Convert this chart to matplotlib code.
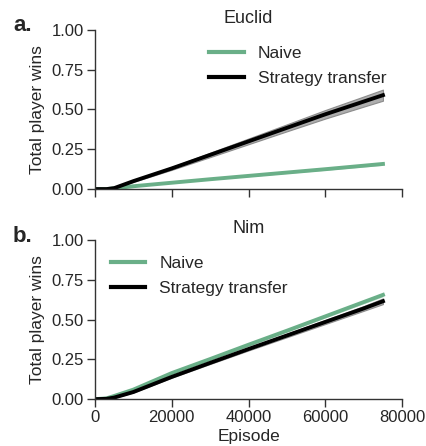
import numpy as np
import matplotlib
matplotlib.use('Agg')
import matplotlib.pyplot as plt

plt.rcParams['font.family'] = ['Liberation Sans', 'DejaVu Sans']

episodes = [0, 3000, 5000, 10000, 20000, 30000, 40000, 50000, 60000, 70000, 75000]

# Euclid
euclid_naive = [0.0, 0.0, 0.005, 0.018, 0.040, 0.062, 0.083, 0.104, 0.125, 0.147, 0.158]
euclid_naive_err = [0.0, 0.0, 0.001, 0.002, 0.003, 0.004, 0.005, 0.006, 0.007, 0.008, 0.009]
euclid_transfer = [0.0, 0.0, 0.006, 0.050, 0.130, 0.215, 0.300, 0.385, 0.470, 0.550, 0.590]
euclid_transfer_err = [0.0, 0.0, 0.002, 0.005, 0.009, 0.014, 0.018, 0.022, 0.027, 0.032, 0.035]

# Nim
nim_naive = [0.0, 0.005, 0.020, 0.060, 0.164, 0.252, 0.342, 0.430, 0.520, 0.610, 0.655]
nim_naive_err = [0.0, 0.0, 0.002, 0.003, 0.005, 0.006, 0.008, 0.009, 0.010, 0.011, 0.012]
nim_transfer = [0.0, 0.002, 0.010, 0.045, 0.140, 0.228, 0.315, 0.400, 0.485, 0.570, 0.615]
nim_transfer_err = [0.0, 0.0, 0.002, 0.003, 0.005, 0.007, 0.009, 0.011, 0.013, 0.015, 0.018]

green = '#6aaf88'
txt = '#262626'

panels = [
    ('a.', 'Euclid', euclid_naive, euclid_naive_err, euclid_transfer, euclid_transfer_err, 'upper right'),
    ('b.', 'Nim', nim_naive, nim_naive_err, nim_transfer, nim_transfer_err, 'upper left'),
]

fig = plt.figure(figsize=(4.26, 4.46), dpi=100)
rects = [[0.223, 0.576, 0.721, 0.357], [0.223, 0.105, 0.721, 0.357]]

x = np.array(episodes)
for rect, (lab, title, nv, ne, tv, te, loc) in zip(rects, panels):
    ax = fig.add_axes(rect)
    nv, ne, tv, te = map(np.array, (nv, ne, tv, te))
    ax.fill_between(x, nv - ne, nv + ne, color=green, alpha=0.4, lw=0)
    ax.plot(x, nv, color=green, lw=2.8, label='Naive')
    ax.fill_between(x, tv - te, tv + te, facecolor='#a0a0a0', edgecolor='#808080',
                    alpha=0.85, lw=0.8)
    ax.plot(x, tv, color='black', lw=2.8, label='Strategy transfer')
    ax.set_xlim(0, 80000)
    ax.set_ylim(0, 1)
    ax.set_yticks([0, 0.25, 0.5, 0.75, 1.0])
    ax.set_yticklabels(['0.00', '0.25', '0.50', '0.75', '1.00'])
    ax.set_xticks([0, 20000, 40000, 60000, 80000])
    ax.spines['top'].set_visible(False)
    ax.spines['right'].set_visible(False)
    for s in ('left', 'bottom'):
        ax.spines[s].set_color('#333333')
        ax.spines[s].set_linewidth(1.0)
    ax.tick_params(labelsize=12, colors='#333333', length=6, width=1.0, pad=2)
    ax.tick_params(labelcolor=txt)
    ax.set_ylabel('Total player wins', fontsize=12.5, color=txt, labelpad=5)
    ax.set_title(title, fontsize=13, color=txt, pad=5)
    ax.text(-0.267, 0.99, lab, transform=ax.transAxes, fontsize=16,
            fontweight='bold', color=txt, va='baseline')
    leg = ax.legend(loc=loc, frameon=False, fontsize=12.5, handlelength=2.0,
                    labelspacing=0.6, borderaxespad=0.5)
    for t in leg.get_texts():
        t.set_color(txt)
    for line in leg.get_lines():
        line.set_linewidth(3)
    if lab == 'a.':
        ax.set_xticklabels([])
    else:
        ax.set_xlabel('Episode', fontsize=12.5, color=txt, labelpad=3)

fig.savefig('out.png', dpi=100)
